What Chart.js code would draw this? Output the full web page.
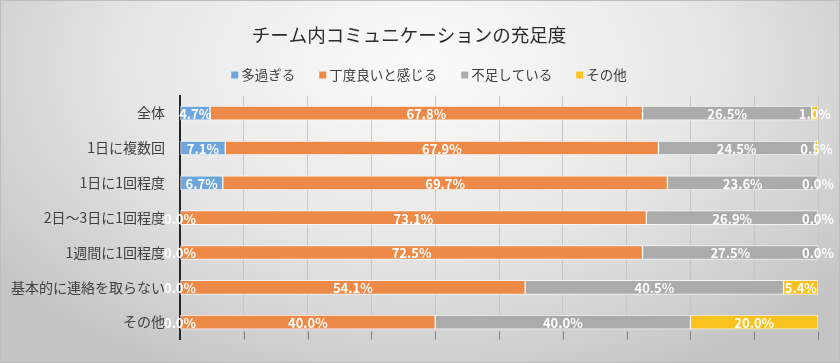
<!DOCTYPE html>
<html lang="ja">
<head>
<meta charset="utf-8">
<title>チーム内コミュニケーションの充足度</title>
<script src="https://cdn.jsdelivr.net/npm/chart.js@4.4.1/dist/chart.umd.min.js"></script>
<style>
  html, body { margin: 0; padding: 0; }
  .chart-box {
    position: relative;
    width: 840px;
    height: 363px;
    background: radial-gradient(ellipse 65% 95% at 50% 18%, #fbfbfb 0%, #e8e8e8 50%, #c4c4c4 100%);
    box-shadow: inset 0 0 0 1px #bdbdbd;
  }
</style>
</head>
<body>
<div class="chart-box">
  <canvas id="satisfactionChart"></canvas>
</div>
<script>
// chart data
const categories = ['全体', '1日に複数回', '1日に1回程度', '2日～3日に1回程度', '1週間に1回程度', '基本的に連絡を取らない', 'その他'];
const tooMuch = [4.7, 7.1, 6.7, 0.0, 0.0, 0.0, 0.0];
const justRight = [67.8, 67.9, 69.7, 73.1, 72.5, 54.1, 40.0];
const notEnough = [26.5, 24.5, 23.6, 26.9, 27.5, 40.5, 40.0];
const other = [1.0, 0.5, 0.0, 0.0, 0.0, 5.4, 20.0];
const seriesNames = ['多過ぎる', '丁度良いと感じる', '不足している', 'その他'];
const seriesColors = ['#6da6dc', '#ee8a48', '#ababab', '#f9c21f'];
const percentTicks = [0, 10, 20, 30, 40, 50, 60, 70, 80, 90, 100];

const fontFamily = '"Noto Sans CJK JP", "Noto Sans", sans-serif';
Chart.defaults.font.family = fontFamily;

// legend drawn by hand so the box/text gap matches the original
const headerLegend = {
  id: 'headerLegend',
  afterDraw(chart) {
    const ctx = chart.ctx;
    ctx.save();
    ctx.font = '13.5px ' + fontFamily;
    ctx.textBaseline = 'middle';
    const box = 7, gap = 3, itemGap = 24, y = 75;
    const widths = chart.data.datasets.map(ds => ctx.measureText(ds.label).width);
    let total = 0;
    widths.forEach((w, i) => { total += box + gap + w + (i < widths.length - 1 ? itemGap : 0); });
    let x = 429 - total / 2;
    chart.data.datasets.forEach((ds, i) => {
      ctx.fillStyle = ds.backgroundColor;
      ctx.fillRect(x, y - box / 2, box, box);
      ctx.fillStyle = '#404040';
      ctx.textAlign = 'left';
      ctx.fillText(ds.label, x + box + gap, y);
      x += box + gap + widths[i] + itemGap;
    });
    ctx.restore();
  }
};

// tick marks sitting just inside the bottom of the plot
const innerTicks = {
  id: 'innerTicks',
  afterDraw(chart) {
    const ctx = chart.ctx;
    const xScale = chart.scales.x;
    const bottom = chart.chartArea.bottom;
    ctx.save();
    ctx.strokeStyle = '#7f7f7f';
    ctx.lineWidth = 1;
    xScale.ticks.forEach((t, i) => {
      if (i === 0) return;
      const px = Math.round(xScale.getPixelForTick(i)) + 0.5;
      ctx.beginPath();
      ctx.moveTo(px, bottom - 8);
      ctx.lineTo(px, bottom);
      ctx.stroke();
    });
    ctx.restore();
  }
};

// value labels in the middle of every segment
const segmentLabels = {
  id: 'segmentLabels',
  afterDatasetsDraw(chart) {
    const ctx = chart.ctx;
    ctx.save();
    ctx.font = 'bold 13px ' + fontFamily;
    ctx.fillStyle = '#ffffff';
    ctx.textAlign = 'center';
    ctx.textBaseline = 'middle';
    chart.data.datasets.forEach((ds, i) => {
      chart.getDatasetMeta(i).data.forEach((bar, j) => {
        const cx = (bar.x + bar.base) / 2;
        ctx.fillText(ds.data[j].toFixed(1) + '%', cx, bar.y + 1);
      });
    });
    ctx.restore();
  }
};

const seriesData = [tooMuch, justRight, notEnough, other];

const ctx = document.getElementById('satisfactionChart').getContext('2d');
new Chart(ctx, {
  type: 'bar',
  data: {
    labels: categories,
    datasets: seriesNames.map((name, i) => ({
      label: name,
      data: seriesData[i],
      backgroundColor: seriesColors[i],
      borderColor: 'rgba(255,255,255,0.75)',
      borderWidth: 1,
      borderSkipped: false,
      barThickness: 14
    }))
  },
  options: {
    indexAxis: 'y',
    responsive: true,
    maintainAspectRatio: false,
    animation: false,
    layout: {
      padding: { left: 0, right: 22, top: 0, bottom: 22.5 }
    },
    plugins: {
      legend: { display: false },
      tooltip: { enabled: false },
      title: {
        display: true,
        text: 'チーム内コミュニケーションの充足度',
        color: '#2b2b2b',
        font: { size: 18.5, weight: 'normal' },
        padding: { top: 24, bottom: 49.5 }
      }
    },
    scales: {
      x: {
        stacked: true,
        min: 0,
        max: 100,
        afterBuildTicks: function (scale) {
          scale.ticks = percentTicks.map(v => ({ value: v }));
        },
        ticks: { display: false },
        grid: {
          color: '#c6c6c6',
          drawTicks: false
        },
        border: { display: false }
      },
      y: {
        stacked: true,
        afterFit: function (scale) {
          scale.width = 180;
        },
        ticks: {
          color: '#404040',
          padding: 15,
          font: { size: 14 }
        },
        grid: { display: false, drawTicks: false },
        border: { display: true, color: '#262626', width: 2 }
      }
    }
  },
  plugins: [headerLegend, innerTicks, segmentLabels]
});
</script>
</body>
</html>
